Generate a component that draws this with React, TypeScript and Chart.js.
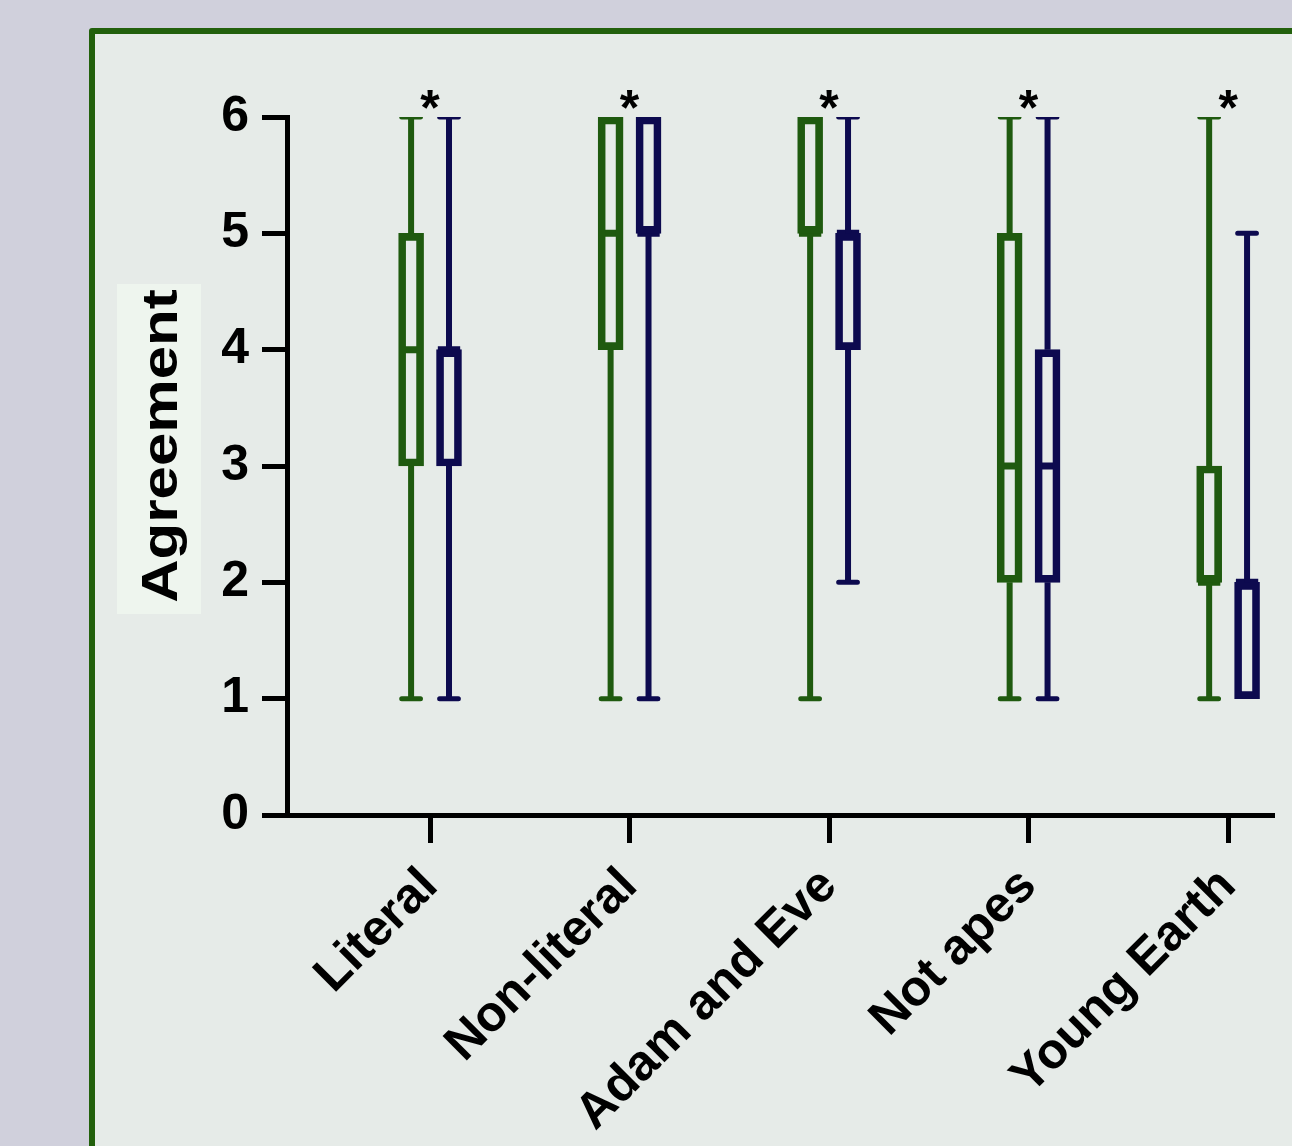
import React, { useEffect, useRef } from 'react';
import { Chart, registerables } from 'chart.js';

Chart.register(...registerables);

// ---------------- data ----------------
const CATEGORIES = ['Literal', 'Non-literal', 'Adam and Eve', 'Not apes', 'Young Earth'];
const SIGNIFICANCE = ['*', '*', '*', '*', '*'];
const Y_TICKS = [0, 1, 2, 3, 4, 5, 6];
const Y_TITLE = 'Agreement';

// group 1 (green)
const GREEN_MIN = [1, 1, 1, 1, 1];
const GREEN_Q1 = [3, 4, 5, 2, 2];
const GREEN_MEDIAN = [4, 5, 5, 3, 2];
const GREEN_Q3 = [5, 6, 6, 5, 3];
const GREEN_MAX = [6, 6, 6, 6, 6];

// group 2 (navy)
const NAVY_MIN = [1, 1, 2, 1, 1];
const NAVY_Q1 = [3, 5, 4, 2, 1];
const NAVY_MEDIAN = [4, 5, 5, 3, 2];
const NAVY_Q3 = [4, 6, 5, 4, 2];
const NAVY_MAX = [6, 6, 6, 6, 5];

// ---------------- styling / layout ----------------
const GREEN = '#1f5a0f';
const NAVY = '#0d0a4f';
const PAGE_BG = '#d0d0dc';
const PANEL_BG = '#e6ebe8';
const PANEL_BORDER = '#22600c';
const TITLE_BG = '#eef5ee';
const FONT = '"Liberation Sans", Arial, Helvetica, sans-serif';

const W = 1292;
const H = 1146;
const GROUP_OFFSET = 0.095; // in category units
const CAP_HALF = 0.047;
const MEDIAN_HALF = 0.056;
const X_MIN = -0.717;
const X_MAX = 4.22;

type Pt = { x: number; y: number | null };

function boxData(off: number, q1: number[], q3: number[]) {
  return CATEGORIES.map((_, i) => ({ x: i + off, y: [q1[i], q3[i]] }));
}

function whiskerData(off: number, mn: number[], q1: number[], q3: number[], mx: number[]) {
  const pts: Pt[] = [];
  CATEGORIES.forEach((_, i) => {
    const x = i + off;
    if (mx[i] > q3[i]) pts.push({ x, y: q3[i] }, { x, y: mx[i] }, { x, y: null });
    if (mn[i] < q1[i]) pts.push({ x, y: q1[i] }, { x, y: mn[i] }, { x, y: null });
  });
  return pts;
}

function capData(off: number, mn: number[], q1: number[], q3: number[], mx: number[]) {
  const pts: Pt[] = [];
  CATEGORIES.forEach((_, i) => {
    const x = i + off;
    if (mx[i] > q3[i]) pts.push({ x: x - CAP_HALF, y: mx[i] }, { x: x + CAP_HALF, y: mx[i] }, { x, y: null });
    if (mn[i] < q1[i]) pts.push({ x: x - CAP_HALF, y: mn[i] }, { x: x + CAP_HALF, y: mn[i] }, { x, y: null });
  });
  return pts;
}

function medianData(off: number, med: number[]) {
  const pts: Pt[] = [];
  CATEGORIES.forEach((_, i) => {
    const x = i + off;
    pts.push({ x: x - MEDIAN_HALF, y: med[i] }, { x: x + MEDIAN_HALF, y: med[i] }, { x, y: null });
  });
  return pts;
}

function lineDs(data: Pt[], color: string, width: number, cap: CanvasLineCap) {
  return {
    type: 'line' as const,
    data,
    borderColor: color,
    backgroundColor: color,
    borderWidth: width,
    borderCapStyle: cap,
    pointRadius: 0,
    pointHoverRadius: 0,
    fill: false,
    tension: 0,
    spanGaps: false,
  };
}

function boxDs(data: any[], color: string) {
  return {
    type: 'bar' as const,
    data,
    backgroundColor: 'rgba(0,0,0,0)',
    borderColor: color,
    borderWidth: 7,
    borderSkipped: false,
    grouped: false,
    barPercentage: 1,
    categoryPercentage: 1,
    maxBarThickness: 25,
  };
}

const decorPlugin = {
  id: 'decor',
  beforeDraw(chart: any) {
    const ctx = chart.ctx as CanvasRenderingContext2D;
    ctx.save();
    ctx.fillStyle = TITLE_BG;
    ctx.fillRect(117, 284, 84, 330);
    ctx.translate(177, 446);
    ctx.rotate(-Math.PI / 2);
    ctx.scale(1.2, 1);
    ctx.fillStyle = '#000';
    ctx.font = `bold 50px ${FONT}`;
    ctx.textAlign = 'center';
    ctx.textBaseline = 'alphabetic';
    ctx.fillText(Y_TITLE, 0, 0);
    ctx.restore();
  },
  afterDraw(chart: any) {
    const ctx = chart.ctx as CanvasRenderingContext2D;
    const xs = chart.scales.x;
    const top = chart.chartArea.top;
    ctx.save();
    ctx.fillStyle = '#000';
    ctx.font = `bold 50px ${FONT}`;
    ctx.textAlign = 'center';
    ctx.textBaseline = 'alphabetic';
    SIGNIFICANCE.forEach((s, i) => {
      ctx.fillText(s, xs.getPixelForValue(i), top + 8);
    });
    ctx.restore();
  },
};

export default function App() {
  const ref = useRef<HTMLCanvasElement | null>(null);

  useEffect(() => {
    if (!ref.current) return;
    const chart = new Chart(ref.current, {
      type: 'bar',
      data: {
        datasets: [
          lineDs(whiskerData(-GROUP_OFFSET, GREEN_MIN, GREEN_Q1, GREEN_Q3, GREEN_MAX), GREEN, 6, 'butt'),
          lineDs(whiskerData(GROUP_OFFSET, NAVY_MIN, NAVY_Q1, NAVY_Q3, NAVY_MAX), NAVY, 6, 'butt'),
          lineDs(capData(-GROUP_OFFSET, GREEN_MIN, GREEN_Q1, GREEN_Q3, GREEN_MAX), GREEN, 5, 'round'),
          lineDs(capData(GROUP_OFFSET, NAVY_MIN, NAVY_Q1, NAVY_Q3, NAVY_MAX), NAVY, 5, 'round'),
          boxDs(boxData(-GROUP_OFFSET, GREEN_Q1, GREEN_Q3), GREEN),
          boxDs(boxData(GROUP_OFFSET, NAVY_Q1, NAVY_Q3), NAVY),
          lineDs(medianData(-GROUP_OFFSET, GREEN_MEDIAN), GREEN, 7, 'butt'),
          lineDs(medianData(GROUP_OFFSET, NAVY_MEDIAN), NAVY, 7, 'butt'),
        ] as any,
      },
      options: {
        responsive: false,
        animation: false,
        events: [],
        layout: { padding: { top: 117, right: 20, left: 0, bottom: 0 } },
        plugins: {
          legend: { display: false },
          tooltip: { enabled: false },
          title: { display: false },
        },
        scales: {
          x: {
            type: 'linear',
            min: X_MIN,
            max: X_MAX,
            offset: false,
            afterBuildTicks: (s: any) => {
              s.ticks = CATEGORIES.map((_, i) => ({ value: i }));
            },
            afterFit: (s: any) => {
              s.height = H - 815;
            },
            ticks: {
              autoSkip: false,
              maxRotation: 45,
              minRotation: 45,
              padding: 14,
              color: '#000',
              font: { family: FONT, weight: 'bold', size: 50 },
              callback: (v: any) => CATEGORIES[Math.round(Number(v))] ?? '',
            },
            grid: {
              offset: false,
              drawOnChartArea: false,
              drawTicks: true,
              tickLength: 28,
              lineWidth: 5,
              color: '#000',
            },
            border: { display: true, color: '#000', width: 5 },
          },
          y: {
            type: 'linear',
            min: 0,
            max: 6,
            afterBuildTicks: (s: any) => {
              s.ticks = Y_TICKS.map((v) => ({ value: v }));
            },
            afterFit: (s: any) => {
              s.width = 287;
            },
            ticks: {
              padding: 13,
              color: '#000',
              font: { family: FONT, weight: 'bold', size: 50 },
            },
            grid: {
              offset: false,
              drawOnChartArea: false,
              drawTicks: true,
              tickLength: 25,
              lineWidth: 5,
              color: '#000',
            },
            border: { display: true, color: '#000', width: 5 },
          },
        },
      } as any,
      plugins: [decorPlugin],
    });
    return () => chart.destroy();
  }, []);

  return (
    <div
      style={{
        position: 'fixed',
        left: 0,
        top: 0,
        width: W,
        height: H,
        overflow: 'hidden',
        background: PAGE_BG,
      }}
    >
      <div
        style={{
          position: 'absolute',
          left: 89,
          top: 28,
          width: 1300,
          height: 1300,
          border: `6px solid ${PANEL_BORDER}`,
          borderRadius: 3,
          background: PANEL_BG,
        }}
      />
      <canvas
        ref={ref}
        width={W}
        height={H}
        style={{ position: 'absolute', left: 0, top: 0, width: W, height: H }}
      />
    </div>
  );
}
